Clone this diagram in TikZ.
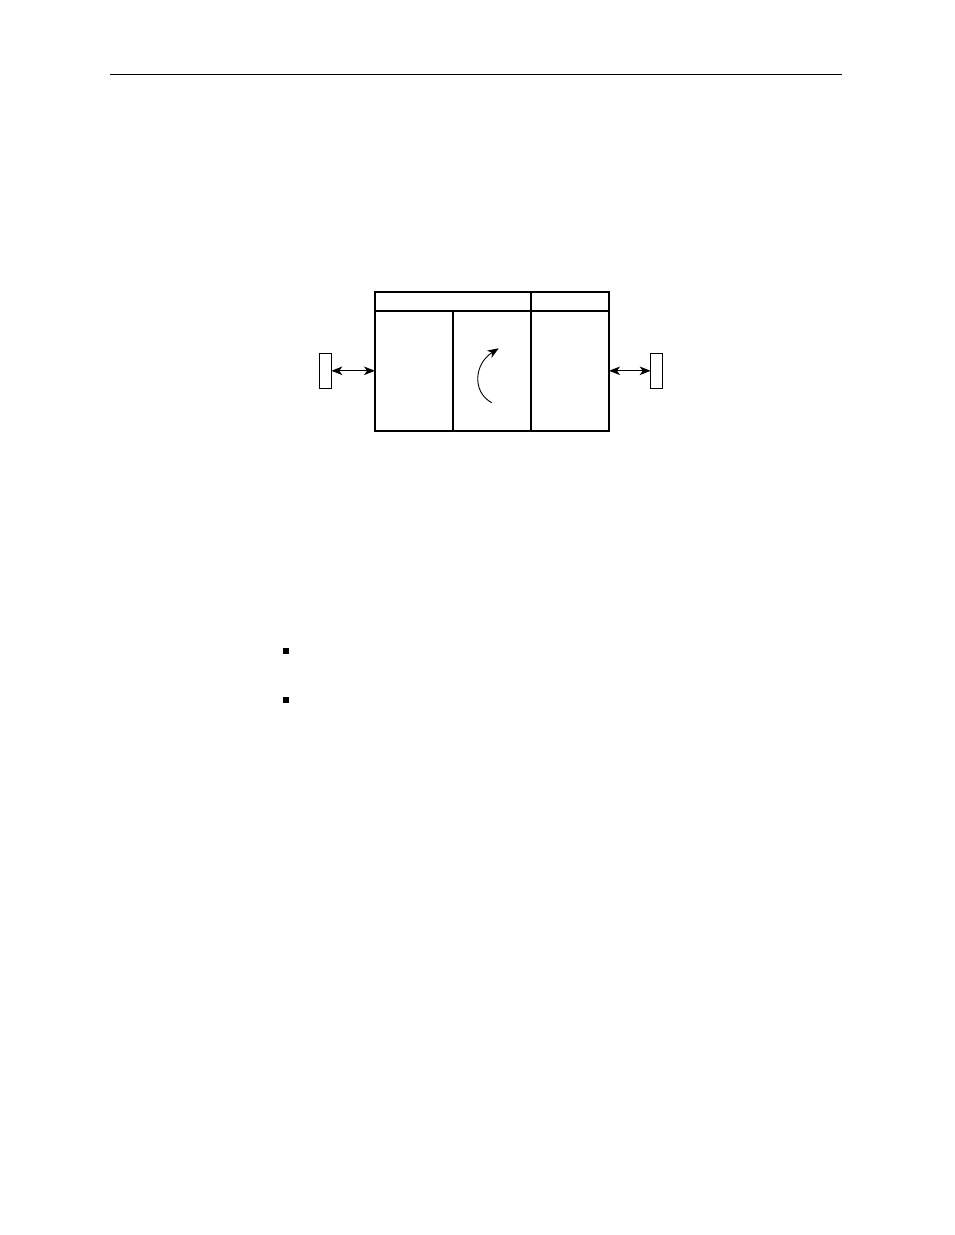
\documentclass[tikz,border=0pt]{standalone}
\usetikzlibrary{arrows.meta}
\begin{document}
\begin{tikzpicture}[x=1pt,y=-1pt,
  thickbox/.style={draw=black,line width=2pt,inner sep=0pt,outer sep=0pt},
  port/.style={draw=black,line width=1pt,inner sep=0pt,outer sep=0pt,minimum width=12pt,minimum height=35pt},
  tip/.style={Stealth[length=11pt,width=8.5pt,inset=3pt]},
  link/.style={line width=1.2pt,{Stealth[length=11pt,width=8.5pt,inset=3pt]}-{Stealth[length=11pt,width=8.5pt,inset=3pt]}},
  bulletsq/.style={fill=black,inner sep=0pt,minimum size=6.5pt}]
\useasboundingbox (0,0) rectangle (954,1235);
% header rule
\coordinate (r1) at (110,74);
\coordinate (r2) at (842,74);
\draw[line width=1pt] (r1) -- (r2);
% main box
\node[thickbox,minimum width=234pt,minimum height=139pt] (M) at (492,361.5) {};
\coordinate (h1) at (375,311);
\coordinate (h2) at (609,311);
\coordinate (v1t) at (453,311);
\coordinate (v1b) at (453,431);
\coordinate (v2t) at (531,292);
\coordinate (v2b) at (531,431);
\draw[line width=2pt] (h1) -- (h2);
\draw[line width=2pt] (v1t) -- (v1b);
\draw[line width=2pt] (v2t) -- (v2b);
% ports
\node[port] (L) at (325.3,370.8) {};
\node[port] (R) at (656.7,370.8) {};
\draw[link] (L.east) -- (L.east -| M.west);
\draw[link] (R.west -| M.east) -- (R.west);
% curved arrow
\coordinate (c1) at (491.7,402.7);
\coordinate (c2) at (498.7,348.3);
\draw[line width=0.9pt,-{Stealth[length=11pt,width=8.5pt,inset=3pt]}] (c1) .. controls (472,392) and (474,364) .. (c2);
% bullets
\node[bulletsq] (b1) at (286,650.8) {};
\node[bulletsq] (b2) at (286,699.8) {};
\end{tikzpicture}
\end{document}
